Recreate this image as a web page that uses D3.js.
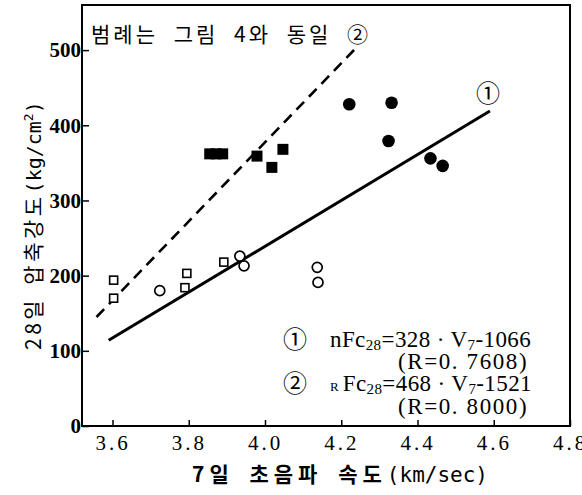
<!DOCTYPE html>
<html>
<head>
<meta charset="utf-8">
<script src="https://cdn.jsdelivr.net/npm/d3@7"></script>
<style>
  body { margin: 0; background: #fff; }
  svg { display: block; }
</style>
</head>
<body>
<div class="chart"></div>
<script>
// values
var xTicks = [3.6, 3.8, 4.0, 4.2, 4.4, 4.6, 4.8];
var yTicks = [0, 100, 200, 300, 400, 500];

var filledSquareV = [3.855, 3.872, 3.889, 3.979, 4.018, 4.047];
var filledSquareF = [362, 362, 362, 359, 344, 368];
var filledCircleV = [4.221, 4.332, 4.324, 4.434, 4.466];
var filledCircleF = [428, 430, 379, 356, 346];
var openSquareV = [3.603, 3.603, 3.795, 3.790, 3.892];
var openSquareF = [194, 170, 203, 184, 218];
var openCircleV = [3.724, 3.934, 3.945, 4.137, 4.139];
var openCircleF = [180, 226, 213, 211, 191];

// regression lines as drawn
var line1V = [3.59, 4.59];
var line1F = [114, 419];
var line2V = [3.558, 4.239];
var line2F = [145, 503];

var width = 582, height = 495;
var plotLeft = 82, plotRight = 570, plotTop = 5, plotBottom = 426;
var serif = "'Liberation Serif','Noto Sans CJK KR',serif";
var kr = "'Noto Sans CJK KR','Liberation Serif',sans-serif";
var mono = "'DejaVu Sans Mono','Liberation Mono',monospace";

var svg = d3.select(".chart")
        .append("svg")
        .attr("width", width)
        .attr("height", height);

var x = d3.scaleLinear().domain([3.52, 4.8]).range([plotLeft, plotRight]);
var y = d3.scaleLinear().domain([0, 560]).range([plotBottom, plotTop]);

function zip(a, b) {
  return a.map(function(d, i) { return [d, b[i]]; });
}

// frame
svg.append("rect")
        .attr("x", plotLeft)
        .attr("y", plotTop)
        .attr("width", plotRight - plotLeft)
        .attr("height", plotBottom - plotTop)
        .attr("fill", "none")
        .attr("stroke", "#000")
        .attr("stroke-width", 2);

var xAxis = svg.append("g")
        .attr("transform", "translate(0," + plotBottom + ")")
        .call(d3.axisBottom(x).tickValues(xTicks).tickSize(-6).tickPadding(9)
          .tickFormat(d3.format(".1f")));
xAxis.select(".domain").remove();
xAxis.selectAll("line").attr("stroke-width", 1.5);
xAxis.selectAll("text")
        .attr("font-family", serif)
        .attr("font-size", 21)
        .attr("letter-spacing", 3)
        .attr("fill", "#000");

var yAxis = svg.append("g")
        .attr("transform", "translate(" + plotLeft + ",0)")
        .call(d3.axisLeft(y).tickValues(yTicks).tickSize(-7).tickPadding(1));
yAxis.select(".domain").remove();
yAxis.selectAll("line").attr("stroke-width", 1.5);
yAxis.selectAll("text")
        .attr("font-family", serif)
        .attr("font-weight", "bold")
        .attr("font-size", 21)
        .attr("fill", "#000");

// lines
var line = d3.line()
        .x(function(d) { return x(d[0]); })
        .y(function(d) { return y(d[1]); });

svg.append("path")
        .attr("d", line(zip(line1V, line1F)))
        .attr("stroke", "#000")
        .attr("stroke-width", 3)
        .attr("fill", "none");

svg.append("path")
        .attr("d", line(zip(line2V, line2F)))
        .attr("stroke", "#000")
        .attr("stroke-width", 2.6)
        .attr("stroke-dasharray", "11,7")
        .attr("fill", "none");

// markers
svg.selectAll(".fsq")
        .data(zip(filledSquareV, filledSquareF))
        .enter()
        .append("rect")
        .attr("x", function(d) { return x(d[0]) - 5.5; })
        .attr("y", function(d) { return y(d[1]) - 5.5; })
        .attr("width", 11)
        .attr("height", 11)
        .attr("fill", "#000");

svg.selectAll(".fci")
        .data(zip(filledCircleV, filledCircleF))
        .enter()
        .append("circle")
        .attr("cx", function(d) { return x(d[0]); })
        .attr("cy", function(d) { return y(d[1]); })
        .attr("r", 6.3)
        .attr("fill", "#000");

svg.selectAll(".osq")
        .data(zip(openSquareV, openSquareF))
        .enter()
        .append("rect")
        .attr("x", function(d) { return x(d[0]) - 4; })
        .attr("y", function(d) { return y(d[1]) - 4; })
        .attr("width", 8)
        .attr("height", 8)
        .attr("fill", "#fff")
        .attr("stroke", "#000")
        .attr("stroke-width", 1.6);

svg.selectAll(".oci")
        .data(zip(openCircleV, openCircleF))
        .enter()
        .append("circle")
        .attr("cx", function(d) { return x(d[0]); })
        .attr("cy", function(d) { return y(d[1]); })
        .attr("r", 5)
        .attr("fill", "#fff")
        .attr("stroke", "#000")
        .attr("stroke-width", 1.7);

// texts
svg.append("text")
        .attr("x", 91)
        .attr("y", 42)
        .attr("font-family", kr)
        .attr("font-size", 21)
        .attr("letter-spacing", 3)
        .attr("word-spacing", 8)
        .text("범례는 그림 4와 동일 ②");

svg.append("text")
        .attr("x", 488)
        .attr("y", 102)
        .attr("text-anchor", "middle")
        .attr("font-family", kr)
        .attr("font-size", 24)
        .text("①");

var legend = svg.append("g")
        .attr("font-family", serif)
        .attr("font-size", 23);

legend.append("text").attr("x", 283).attr("y", 348)
        .attr("font-family", kr).attr("font-size", 24).text("①");
var t1 = legend.append("text").attr("x", 330).attr("y", 347).attr("letter-spacing", 0.4);
t1.append("tspan").text("nFc");
t1.append("tspan").attr("font-size", 15).attr("dy", 3).text("28");
t1.append("tspan").attr("dy", -3).text("=328 · V");
t1.append("tspan").attr("font-size", 15).attr("dy", 3).text("7");
t1.append("tspan").attr("dy", -3).text("-1066");

legend.append("text").attr("x", 398).attr("y", 369)
        .attr("letter-spacing", 1.6).text("(R=0. 7608)");

legend.append("text").attr("x", 283).attr("y", 392)
        .attr("font-family", kr).attr("font-size", 24).text("②");
var t2 = legend.append("text").attr("x", 330).attr("y", 391).attr("letter-spacing", 0.4);
t2.append("tspan").attr("font-size", 13).text("R ");
t2.append("tspan").text("Fc");
t2.append("tspan").attr("font-size", 15).attr("dy", 3).text("28");
t2.append("tspan").attr("dy", -3).text("=468 · V");
t2.append("tspan").attr("font-size", 15).attr("dy", 3).text("7");
t2.append("tspan").attr("dy", -3).text("-1521");

legend.append("text").attr("x", 398).attr("y", 414)
        .attr("letter-spacing", 1.6).text("(R=0. 8000)");

// axis titles
var xl = svg.append("text")
        .attr("x", 192)
        .attr("y", 482)
        .attr("font-size", 21);
xl.append("tspan")
        .attr("font-family", kr)
        .attr("font-weight", "bold")
        .attr("letter-spacing", 5)
        .attr("word-spacing", 6)
        .text("7일 초음파 속도");
xl.append("tspan")
        .attr("font-family", mono)
        .attr("font-size", 21)
        .text("(km/sec)");

var yl = svg.append("text")
        .attr("transform", "translate(41,350) rotate(-90)")
        .attr("font-size", 21);
yl.append("tspan")
        .attr("font-family", kr)
        .attr("letter-spacing", 3.5)
        .attr("word-spacing", 4)
        .text("28일 압축강도");
yl.append("tspan").attr("font-family", mono).attr("font-size", 20).text("(kg/cm");
yl.append("tspan").attr("font-family", mono).attr("font-size", 13).attr("dy", -8).text("2");
yl.append("tspan").attr("font-family", mono).attr("font-size", 20).attr("dy", 8).text(")");
</script>
</body>
</html>
